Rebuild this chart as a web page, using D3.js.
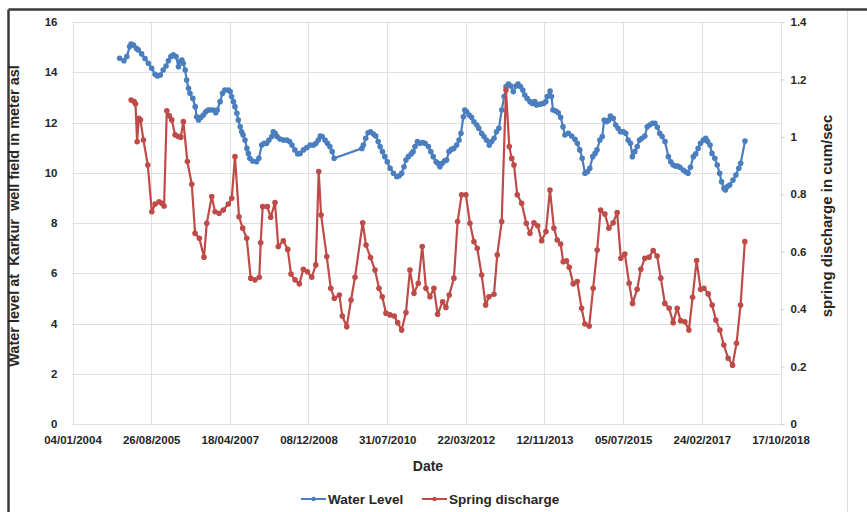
<!DOCTYPE html>
<html><head><meta charset="utf-8">
<script src="https://cdn.jsdelivr.net/npm/d3@7"></script>
<style>
body{margin:0;background:#fff}
svg{display:block}
text{font-family:"Liberation Sans",Arial,sans-serif;fill:#262626}
</style>
</head><body>
<svg id="c" width="867" height="512"></svg>
<script>
// ---- data (dates as decimal years) ----
const wlYears = [2004.99,2005.08,2005.14,2005.20,2005.23,2005.28,2005.34,2005.38,2005.45,2005.52,2005.59,2005.66,2005.73,2005.78,2005.84,2005.90,2005.96,2006.01,2006.06,2006.11,2006.17,2006.22,2006.25,2006.29,2006.32,2006.36,2006.39,2006.43,2006.46,2006.52,2006.57,2006.60,2006.64,2006.69,2006.74,2006.79,2006.84,2006.89,2006.95,2007.00,2007.03,2007.09,2007.14,2007.19,2007.26,2007.30,2007.33,2007.37,2007.40,2007.44,2007.47,2007.51,2007.54,2007.57,2007.61,2007.65,2007.68,2007.71,2007.77,2007.85,2007.90,2007.96,2008.01,2008.06,2008.11,2008.17,2008.20,2008.24,2008.28,2008.34,2008.41,2008.48,2008.54,2008.59,2008.65,2008.71,2008.76,2008.83,2008.90,2008.97,2009.04,2009.09,2009.14,2009.18,2009.22,2009.28,2009.33,2009.38,2009.43,2009.47,2010.05,2010.08,2010.13,2010.18,2010.23,2010.29,2010.34,2010.39,2010.43,2010.48,2010.53,2010.58,2010.64,2010.71,2010.78,2010.83,2010.88,2010.93,2010.97,2011.02,2011.08,2011.12,2011.16,2011.21,2011.26,2011.32,2011.37,2011.44,2011.49,2011.54,2011.60,2011.64,2011.68,2011.73,2011.78,2011.82,2011.87,2011.92,2011.97,2012.03,2012.08,2012.12,2012.17,2012.20,2012.24,2012.29,2012.34,2012.39,2012.45,2012.49,2012.55,2012.60,2012.65,2012.71,2012.76,2012.81,2012.86,2012.91,2012.97,2013.02,2013.06,2013.11,2013.16,2013.21,2013.27,2013.31,2013.36,2013.41,2013.45,2013.50,2013.56,2013.61,2013.66,2013.70,2013.77,2013.84,2013.89,2013.92,2013.98,2014.01,2014.04,2014.10,2014.15,2014.20,2014.25,2014.29,2014.36,2014.43,2014.50,2014.55,2014.60,2014.65,2014.71,2014.76,2014.81,2014.87,2014.92,2014.96,2015.02,2015.07,2015.11,2015.16,2015.21,2015.24,2015.30,2015.35,2015.40,2015.45,2015.51,2015.56,2015.61,2015.66,2015.70,2015.75,2015.80,2015.85,2015.90,2015.96,2016.01,2016.06,2016.12,2016.17,2016.22,2016.27,2016.32,2016.38,2016.45,2016.50,2016.55,2016.60,2016.64,2016.69,2016.76,2016.81,2016.86,2016.91,2016.97,2017.02,2017.07,2017.12,2017.18,2017.23,2017.27,2017.32,2017.36,2017.42,2017.47,2017.52,2017.56,2017.61,2017.64,2017.68,2017.73,2017.80,2017.86,2017.92,2017.96,2018.05];
const wlValues = [14.56,14.46,14.62,15.02,15.12,15.08,14.95,14.89,14.73,14.55,14.36,14.16,13.92,13.85,13.89,14.09,14.25,14.46,14.62,14.69,14.62,14.22,14.42,14.49,14.36,14.09,13.69,13.36,13.16,12.96,12.63,12.23,12.10,12.21,12.30,12.43,12.50,12.50,12.50,12.39,12.50,12.83,13.16,13.29,13.29,13.23,13.03,12.83,12.63,12.37,12.10,11.83,11.63,11.50,11.30,10.97,10.77,10.58,10.47,10.44,10.58,11.10,11.17,11.17,11.30,11.44,11.63,11.57,11.44,11.34,11.30,11.30,11.24,11.10,10.91,10.75,10.77,10.91,11.00,11.10,11.10,11.17,11.30,11.46,11.44,11.30,11.17,11.04,10.84,10.58,10.97,11.10,11.37,11.59,11.63,11.54,11.46,11.24,11.04,10.84,10.64,10.44,10.18,9.98,9.84,9.88,9.98,10.24,10.51,10.64,10.75,10.84,11.04,11.24,11.17,11.20,11.17,11.04,10.84,10.64,10.44,10.38,10.24,10.38,10.48,10.51,10.84,10.93,10.97,11.10,11.30,11.57,12.23,12.50,12.43,12.30,12.21,12.03,11.90,11.77,11.57,11.44,11.30,11.10,11.24,11.37,11.63,11.77,12.50,13.03,13.43,13.53,13.45,13.23,13.45,13.53,13.43,13.29,13.09,12.96,12.83,12.76,12.83,12.70,12.73,12.76,12.83,13.03,13.25,13.03,12.50,12.46,12.39,12.21,11.83,11.50,11.57,11.46,11.33,11.17,10.91,10.58,9.98,10.04,10.18,10.64,10.77,10.91,11.30,11.44,12.10,12.03,12.10,12.26,12.17,11.90,11.77,11.63,11.63,11.57,11.30,11.17,10.64,10.84,11.04,11.30,11.37,11.46,11.83,11.90,11.97,11.97,11.81,11.57,11.44,11.24,10.64,10.44,10.31,10.27,10.27,10.22,10.11,10.04,9.98,10.22,10.64,10.75,10.97,11.17,11.30,11.37,11.24,11.10,10.77,10.58,10.31,9.98,9.64,9.38,9.31,9.45,9.51,9.71,9.91,10.18,10.38,11.26];

const sdYears = [2005.231,2005.293,2005.321,2005.356,2005.391,2005.425,2005.488,2005.579,2005.663,2005.732,2005.815,2005.871,2005.919,2005.976,2006.030,2006.080,2006.149,2006.218,2006.268,2006.322,2006.406,2006.498,2006.567,2006.656,2006.754,2006.811,2006.915,2006.984,2007.068,2007.157,2007.262,2007.333,2007.401,2007.485,2007.562,2007.646,2007.729,2007.819,2007.909,2007.938,2007.980,2008.076,2008.147,2008.236,2008.305,2008.410,2008.502,2008.570,2008.654,2008.744,2008.827,2008.911,2009.003,2009.086,2009.148,2009.197,2009.316,2009.399,2009.474,2009.579,2009.641,2009.733,2009.823,2009.906,2010.067,2010.136,2010.230,2010.324,2010.407,2010.476,2010.553,2010.637,2010.727,2010.798,2010.881,2010.971,2011.054,2011.138,2011.228,2011.311,2011.388,2011.472,2011.555,2011.632,2011.737,2011.806,2011.875,2011.973,2012.050,2012.133,2012.223,2012.307,2012.390,2012.459,2012.551,2012.634,2012.703,2012.808,2012.876,2012.968,2013.058,2013.127,2013.177,2013.225,2013.294,2013.386,2013.482,2013.559,2013.643,2013.720,2013.803,2013.893,2013.977,2014.060,2014.129,2014.200,2014.254,2014.321,2014.380,2014.463,2014.547,2014.638,2014.707,2014.797,2014.880,2014.964,2015.035,2015.125,2015.208,2015.298,2015.381,2015.458,2015.542,2015.632,2015.703,2015.799,2015.876,2015.959,2016.049,2016.133,2016.216,2016.293,2016.377,2016.467,2016.550,2016.634,2016.705,2016.794,2016.878,2016.955,2017.039,2017.122,2017.191,2017.281,2017.364,2017.441,2017.525,2017.608,2017.698,2017.790,2017.873,2017.957,2018.047];
const sdValues = [1.128,1.123,1.115,0.983,1.065,1.059,0.989,0.902,0.739,0.766,0.774,0.769,0.759,1.091,1.073,1.059,1.007,1.001,0.999,1.053,0.914,0.835,0.664,0.647,0.581,0.699,0.792,0.739,0.734,0.745,0.766,0.786,0.931,0.722,0.682,0.647,0.508,0.502,0.511,0.631,0.757,0.757,0.720,0.771,0.618,0.638,0.608,0.522,0.502,0.488,0.539,0.530,0.511,0.554,0.879,0.728,0.583,0.473,0.438,0.449,0.376,0.339,0.432,0.511,0.701,0.623,0.580,0.536,0.473,0.443,0.386,0.380,0.376,0.353,0.327,0.388,0.536,0.455,0.490,0.618,0.473,0.443,0.473,0.382,0.426,0.406,0.449,0.508,0.705,0.798,0.798,0.699,0.635,0.612,0.519,0.414,0.443,0.452,0.589,0.705,1.163,0.966,0.925,0.902,0.798,0.769,0.699,0.664,0.701,0.690,0.638,0.670,0.815,0.682,0.641,0.627,0.565,0.568,0.546,0.488,0.496,0.403,0.348,0.341,0.473,0.606,0.745,0.731,0.682,0.701,0.736,0.577,0.592,0.490,0.420,0.469,0.539,0.577,0.581,0.604,0.585,0.508,0.420,0.403,0.353,0.403,0.360,0.356,0.327,0.441,0.569,0.469,0.473,0.453,0.414,0.362,0.327,0.275,0.229,0.205,0.281,0.414,0.635];

const dateTickLabels = ["04/01/2004","26/08/2005","18/04/2007","08/12/2008","31/07/2010","22/03/2012","12/11/2013","05/07/2015","24/02/2017","17/10/2018"];
const leftTicks = [0,2,4,6,8,10,12,14,16];
const rightTicks = [0,0.2,0.4,0.6,0.8,1,1.2,1.4];
const seriesNames = ["Water Level","Spring discharge"];
const seriesColors = ["#4a7ebf","#be4b48"];

// ---- helpers ----
function fromYear(y){const yr=Math.floor(y);const s=Date.UTC(yr,0,1),e=Date.UTC(yr+1,0,1);return new Date(s+(y-yr)*(e-s));}
function parseDMY(s){const [d,m,y]=s.split("/").map(Number);return new Date(Date.UTC(y,m-1,d));}
const fmt = d3.utcFormat("%d/%m/%Y");

const svg = d3.select("#c");
const L=72.5, R=780.5, T=22, B=424;
const tickDates = dateTickLabels.map(parseDMY);
const x = d3.scaleUtc().domain([tickDates[0], tickDates[tickDates.length-1]]).range([L,R]);
const yL = d3.scaleLinear().domain([0,16]).range([B,T]);
const yR = d3.scaleLinear().domain([0,1.4]).range([B,T]);

// frame
svg.append("line").attr("x1",8.5).attr("x2",867).attr("y1",9.5).attr("y2",9.5).attr("stroke","#3a3a3a").attr("stroke-width",2.5);
svg.append("line").attr("x1",8.5).attr("x2",8.5).attr("y1",9.5).attr("y2",512).attr("stroke","#3a3a3a").attr("stroke-width",2.5);
svg.append("line").attr("x1",847.5).attr("x2",847.5).attr("y1",11).attr("y2",512).attr("stroke","#dcdcdc").attr("stroke-width",1);

// grid
const g = svg.append("g");
g.selectAll("line.h").data(leftTicks).join("line")
  .attr("x1",L).attr("x2",R).attr("y1",d=>Math.round(yL(d))+0.5).attr("y2",d=>Math.round(yL(d))+0.5)
  .attr("stroke","#e0e0e0").attr("stroke-width",1);
g.selectAll("line.v").data(tickDates).join("line")
  .attr("x1",d=>Math.round(x(d))+0.5).attr("x2",d=>Math.round(x(d))+0.5).attr("y1",T).attr("y2",B)
  .attr("stroke","#e0e0e0").attr("stroke-width",1);

// axes
const axB = d3.axisBottom(x).tickValues(tickDates).tickFormat(fmt).tickSize(0).tickPadding(12);
const gB = svg.append("g").attr("transform",`translate(0,${B})`).call(axB);
const axLf = d3.axisLeft(yL).tickValues(leftTicks).tickSize(0).tickPadding(15);
const gLf = svg.append("g").attr("transform",`translate(${L},0)`).call(axLf);
const axRt = d3.axisRight(yR).tickValues(rightTicks).tickFormat(d3.format("~g")).tickSize(4).tickPadding(6);
const gRt = svg.append("g").attr("transform",`translate(${R},0)`).call(axRt);
[gB,gLf,gRt].forEach(a=>{a.select(".domain").remove();a.selectAll("text").attr("font-size","11.5px").attr("font-weight","bold").attr("fill","#333").style("font-family","'Liberation Sans',Arial,sans-serif");});
gRt.selectAll(".tick line").attr("stroke","#d0d0d0");

// titles
svg.append("text").attr("transform","translate(19,216) rotate(-90)").attr("text-anchor","middle")
  .attr("font-size","14.5px").attr("font-weight","bold").attr("fill","#222")
  .text("Water level at\u00a0 Karkur\u00a0 well field in meter asl");
svg.append("text").attr("transform","translate(832,216) rotate(-90)").attr("text-anchor","middle")
  .attr("font-size","15px").attr("font-weight","bold").attr("fill","#222")
  .text("spring discharge in cum/sec");
svg.append("text").attr("x",428).attr("y",471).attr("text-anchor","middle")
  .attr("font-size","14px").attr("font-weight","bold").attr("fill","#222").text("Date");

// series
const wl = wlYears.map((t,i)=>({d:fromYear(t),v:wlValues[i]}));
const sd = sdYears.map((t,i)=>({d:fromYear(t),v:sdValues[i]}));
function drawSeries(data, yS, color){
  const gg = svg.append("g");
  gg.append("path").datum(data).attr("fill","none").attr("stroke",color).attr("stroke-width",2.2)
    .attr("stroke-linejoin","round").attr("d",d3.line().x(d=>x(d.d)).y(d=>yS(d.v)));
  gg.selectAll("circle").data(data).join("circle").attr("cx",d=>x(d.d)).attr("cy",d=>yS(d.v))
    .attr("r",2.8).attr("fill",color);
}
drawSeries(wl, yL, seriesColors[0]);
drawSeries(sd, yR, seriesColors[1]);

// legend
const legX = [301, 422];
const lg = svg.append("g").attr("transform","translate(0,499)");
seriesNames.forEach((n,i)=>{
  const gi = lg.append("g").attr("transform",`translate(${legX[i]},0)`);
  gi.append("line").attr("x1",0).attr("x2",25).attr("y1",0).attr("y2",0).attr("stroke",seriesColors[i]).attr("stroke-width",2);
  gi.append("circle").attr("cx",12.5).attr("cy",0).attr("r",2.2).attr("fill",seriesColors[i]);
  gi.append("text").attr("x",27).attr("y",5).attr("font-size","13.5px").attr("font-weight","bold").attr("fill","#222").text(n);
});
</script>
</body></html>
